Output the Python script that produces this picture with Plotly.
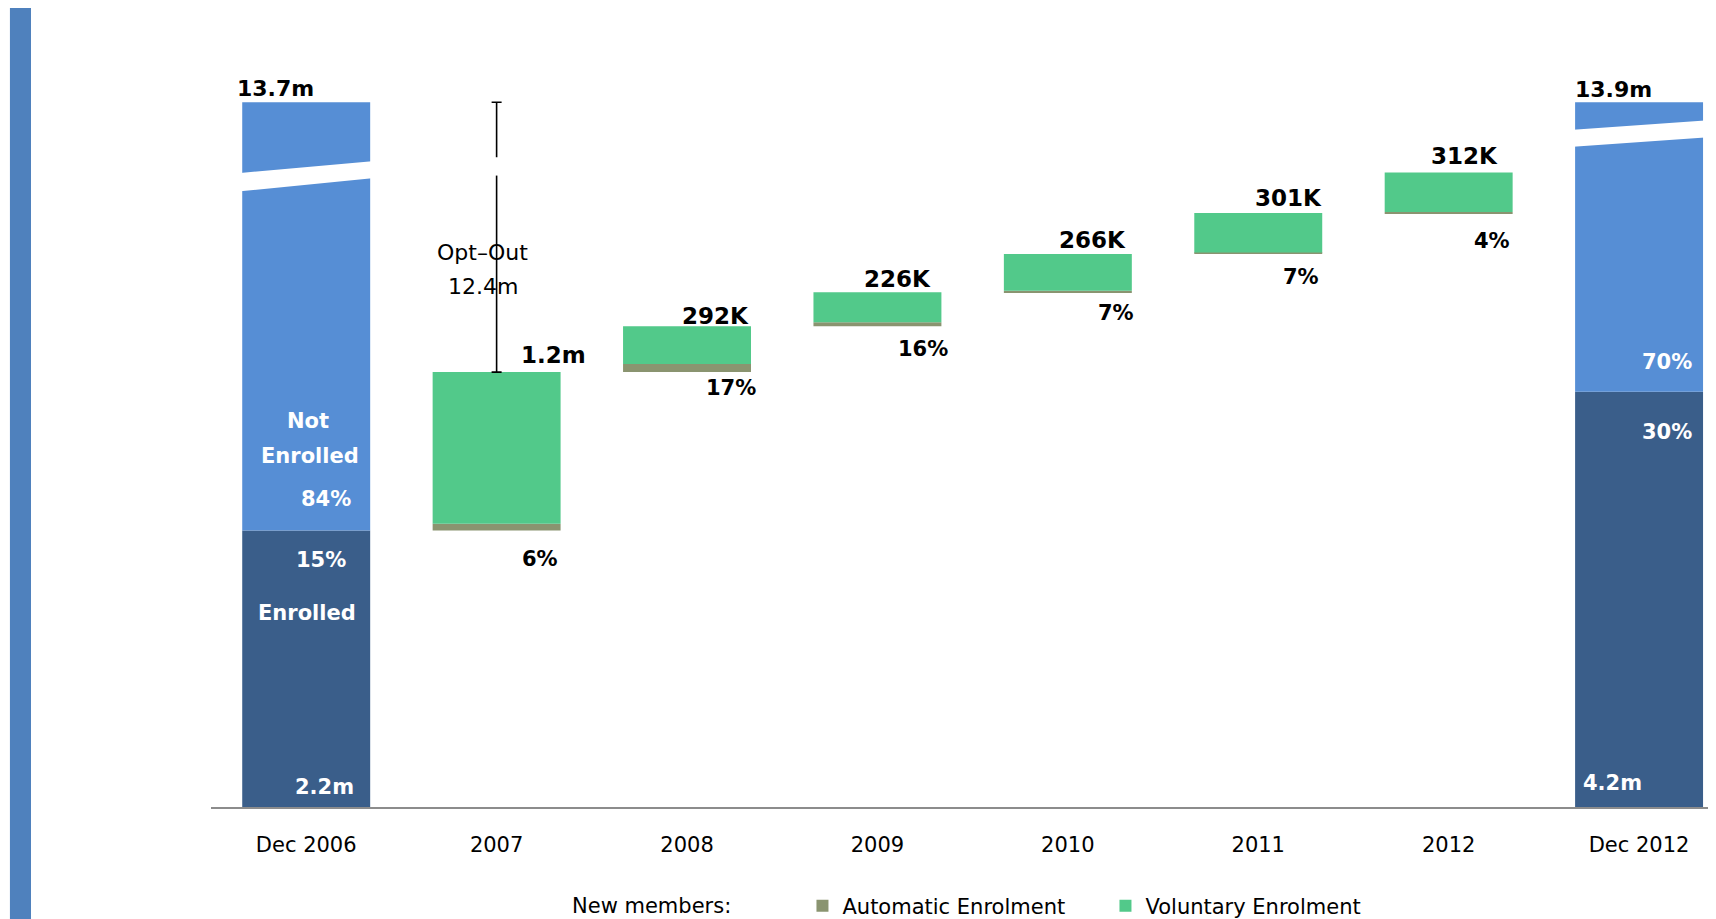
import plotly.graph_objects as go

# ---------------- data (visual heights, millions; axis is broken) ----
categories = ["Dec 2006", "2007", "2008", "2009", "2010", "2011", "2012", "Dec 2012"]
end_positions = [0, 7]
new_positions = [1, 2, 3, 4, 5, 6]

enrolled = [2.11, 3.17]          # Dec 2006, Dec 2012
not_enrolled = [3.27, 2.21]      # drawn on a broken axis
auto_new = [0.053, 0.061, 0.031, 0.011, 0.011, 0.008]
vol_new = [1.157, 0.289, 0.229, 0.281, 0.301, 0.302]

total_labels = ["13.7m", "13.9m"]
enrolled_labels = ["2.2m", "4.2m"]
enrolled_pct = ["15%", "30%"]
not_enrolled_pct = ["84%", "70%"]
new_labels = ["1.2m", "292K", "226K", "266K", "301K", "312K"]
auto_pct_labels = ["6%", "17%", "16%", "7%", "7%", "4%"]
opt_out_labels = ["Opt\u2013Out", "12.4m"]

# axis-break bands: left_low, left_high, right_low, right_high
break_bands = [[4.70, 4.84, 4.80, 4.93], [5.04, 5.17, 5.11, 5.24]]
optout_gap = [4.82, 4.96]

# ---------------- style ----------------
C_ENR = "#3A5E8A"
C_NOT = "#568ED5"
C_AUTO = "#8A9470"
C_VOL = "#52C98A"
C_STRIPE = "#4F81BD"
FONT = "DejaVu Sans"
BAR_W = 0.672
PLOT_H = 799
PX_PER_UNIT = 131

# waterfall bases
base_auto, base_vol, tops = [], [], []
start = enrolled[0]
for a, v in zip(auto_new, vol_new):
    base_auto.append(start)
    base_vol.append(start + a)
    start += a + v
    tops.append(start)
totals = [e + n for e, n in zip(enrolled, not_enrolled)]

fig = go.Figure()
fig.add_trace(go.Bar(x=end_positions, y=enrolled, base=[0, 0], width=BAR_W,
                     marker=dict(color=C_ENR, line=dict(width=0)), showlegend=False,
                     hoverinfo="skip"))
fig.add_trace(go.Bar(x=end_positions, y=not_enrolled, base=enrolled, width=BAR_W,
                     marker=dict(color=C_NOT, line=dict(width=0)), showlegend=False,
                     hoverinfo="skip"))
fig.add_trace(go.Bar(x=new_positions, y=auto_new, base=base_auto, width=BAR_W,
                     name="Automatic Enrolment",
                     marker=dict(color=C_AUTO, line=dict(width=0))))
fig.add_trace(go.Bar(x=new_positions, y=vol_new, base=base_vol, width=BAR_W,
                     name="Voluntary Enrolment",
                     marker=dict(color=C_VOL, line=dict(width=0))))
# opt-out range shown as an error bar from top of 2007 up to the Dec 2006 total
fig.add_trace(go.Scatter(x=[new_positions[0]], y=[tops[0]], mode="markers",
                         marker=dict(size=1, opacity=0), showlegend=False, hoverinfo="skip",
                         error_y=dict(type="data", symmetric=False,
                                      array=[totals[0] - tops[0]], arrayminus=[0],
                                      color="black", thickness=1.6, width=5)))

shapes = []
half = BAR_W / 2 + 0.01
for pos, band in zip(end_positions, break_bands):
    ll, lh, rl, rh = band
    shapes.append(dict(type="path", xref="x", yref="y", layer="above",
                       path=f"M{pos-half},{ll} L{pos+half},{rl} L{pos+half},{rh} L{pos-half},{lh} Z",
                       fillcolor="white", line=dict(width=0)))
shapes.append(dict(type="rect", xref="x", yref="y", layer="above",
                   x0=new_positions[0] - 0.03, x1=new_positions[0] + 0.03,
                   y0=optout_gap[0], y1=optout_gap[1], fillcolor="white", line=dict(width=0)))
# left decorative stripe
shapes.append(dict(type="rect", xref="paper", yref="paper", layer="above",
                   x0=-0.1336, x1=-0.1196, y0=-0.18, y1=1.0038,
                   fillcolor=C_STRIPE, line=dict(width=0)))

ann = []
def A(x, y, text, xs=0, ys=0, color="black", size=21, bold=True):
    ann.append(dict(x=x, y=y, xref="x", yref="y", text=text, showarrow=False,
                    xanchor="center", yanchor="middle", xshift=xs, yshift=ys,
                    font=dict(family=FONT, size=size, color=color,
                              weight="bold" if bold else "normal")))

A(end_positions[0], totals[0], total_labels[0], -31, 14, size=22)
A(end_positions[1], totals[1], total_labels[1], -26, 13, size=22)
A(end_positions[0], enrolled[0], "Not", 2, 110, "white")
A(end_positions[0], enrolled[0], "Enrolled", 4, 75, "white")
A(end_positions[0], enrolled[0], not_enrolled_pct[0], 20, 32, "white")
A(end_positions[0], enrolled[0], enrolled_pct[0], 15, -29, "white")
A(end_positions[0], enrolled[0], "Enrolled", 1, -82, "white")
A(end_positions[0], 0, enrolled_labels[0], 18, 20, "white")
A(end_positions[1], enrolled[1], not_enrolled_pct[1], 28, 30, "white")
A(end_positions[1], enrolled[1], enrolled_pct[1], 28, -40, "white")
A(end_positions[1], 0, enrolled_labels[1], -27, 24, "white")

top_shift = [(57, 17), (28, 10), (20, 13), (25, 14), (30, 15), (16, 16)]
pct_shift = [(43, -28), (44, -16), (46, -23), (48, -21), (43, -23), (43, -28)]
for i, p in enumerate(new_positions):
    A(p, tops[i], new_labels[i], top_shift[i][0], top_shift[i][1], size=23)
    A(p, base_auto[i], auto_pct_labels[i], pct_shift[i][0], pct_shift[i][1])

A(new_positions[0], tops[0], opt_out_labels[0], -14, 120, size=22, bold=False)
A(new_positions[0], tops[0], opt_out_labels[1], -14, 86, size=22, bold=False)

LEG_Y = -99 / PLOT_H
ann.append(dict(x=0.293, y=LEG_Y, xref="paper", yref="paper", text="New members:",
                showarrow=False, xanchor="center", yanchor="middle",
                font=dict(family=FONT, size=21, color="black")))

fig.update_layout(
    width=1708, height=PLOT_H + 141,
    margin=dict(l=203, r=0, t=0, b=141),
    paper_bgcolor="white", plot_bgcolor="white",
    barmode="overlay",
    shapes=shapes, annotations=ann,
    showlegend=True,
    legend=dict(orientation="h", x=0.393, y=LEG_Y, xanchor="left", yanchor="middle",
                font=dict(family=FONT, size=21, color="black"),
                entrywidth=258, entrywidthmode="pixels",
                bgcolor="rgba(0,0,0,0)"),
    xaxis=dict(range=[-0.5, 7.404], tickmode="array", tickvals=list(range(len(categories))),
               ticktext=categories, showline=True, linecolor="#8C8C8C", linewidth=2,
               ticks="", showgrid=False, zeroline=False, ticklabelstandoff=18,
               tickfont=dict(family=FONT, size=21, color="black"), fixedrange=True),
    yaxis=dict(range=[0, PLOT_H / PX_PER_UNIT], visible=False, showgrid=False, zeroline=False,
               fixedrange=True),
)

fig.write_html("out.html")
